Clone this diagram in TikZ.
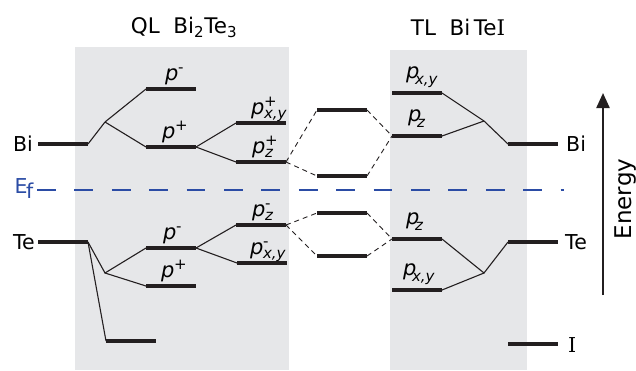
\documentclass[tikz,border=0pt]{standalone}
\usepackage{fontspec}
\setmainfont{DejaVu Sans}
\newfontfamily\serifI{DejaVu Serif}
\usetikzlibrary{arrows.meta}

\definecolor{panel}{RGB}{230,231,233}
\definecolor{levelc}{RGB}{35,31,32}
\definecolor{fermi}{RGB}{43,76,165}

% orbital label: p with stacked superscript / subscript
\newcommand\orb[2]{\textit{p}\kern-0.5pt\rlap{\raisebox{8pt}{\fontsize{15}{15}\selectfont #1}}\raisebox{-4pt}{\fontsize{15}{15}\selectfont\itshape #2}}
% orbital label with the subscript tucked under the p
\newcommand\orbt[1]{\textit{p}\kern-4.5pt\raisebox{-6pt}{\fontsize{15}{15}\selectfont\itshape #1}}

\begin{document}
\begin{tikzpicture}[x=1pt,y=-1pt,
  lvl/.style={draw=none,fill=levelc,minimum width=50pt,minimum height=4pt,inner sep=0pt,outer sep=0pt},
  link/.style={line width=1.1pt,levelc},
  mix/.style={line width=0.9pt,levelc,dash pattern=on 5pt off 4pt},
  txt/.style={inner sep=0pt,font=\fontsize{20.5}{20.5}\selectfont},
  olab/.style={inner sep=0pt,anchor=base west,font=\fontsize{21}{21}\selectfont}]
\useasboundingbox (0,0) rectangle (636,370);

% shaded panels
\fill[panel] (75,47) rectangle (289,370);
\fill[panel] (390,50) rectangle (527,370);

% titles
\node[txt,anchor=base,font=\fontsize{21.5}{21.5}\selectfont] (qlt) at (184,33) {QL\ \ Bi\textsubscript{2}Te\textsubscript{3}};
\node[txt,anchor=base,font=\fontsize{21.5}{21.5}\selectfont] (tlt) at (458,35) {TL\ \ Bi\,Te{\serifI I}};

% Fermi level
\coordinate (ef0) at (37,190);
\coordinate (ef1) at (564,190);
\draw[fermi,line width=2.8pt,dash pattern=on 18.7pt off 18.7pt] (ef0) -- (ef1);
\node[txt,text=fermi,anchor=base] (ef) at (24,193) {E\kern-1.5pt\raisebox{-5pt}{f}};

% levels: QL Bi2Te3
\node[lvl] (biL) at (63,144) {};
\node[lvl] (pm)  at (171,89) {};
\node[lvl] (pp)  at (171,147) {};
\node[lvl] (pxyp) at (261,123) {};
\node[lvl] (pzp) at (261,162) {};
\node[lvl] (teL) at (63,242) {};
\node[lvl] (pm2) at (171,248) {};
\node[lvl] (pp2) at (171,286) {};
\node[lvl] (low) at (131,341) {};
\node[lvl] (pzm) at (261,225) {};
\node[lvl] (pxym) at (262,263) {};

% levels: mixed states
\node[lvl] (m1) at (342,110) {};
\node[lvl] (m2) at (342,176) {};
\node[lvl] (m3) at (342,213) {};
\node[lvl] (m4) at (342,256) {};

% levels: TL BiTeI
\node[lvl] (tpxy)  at (417,93) {};
\node[lvl] (tpz)   at (417,136) {};
\node[lvl] (tpz2)  at (417,239) {};
\node[lvl] (tpxy2) at (417,290) {};
\node[lvl] (biR) at (533,144) {};
\node[lvl] (teR) at (533,242) {};
\node[lvl] (iR)  at (533,344) {};

% branch points
\coordinate (j1) at (105,122);
\coordinate (j2) at (105,273);
\coordinate (j3) at (484,121);
\coordinate (j4) at (484,273);

% splitting lines
\draw[link] (biL.east) -- (j1) -- (pm.west);
\draw[link] (j1) -- (pp.west);
\draw[link] (pp.east) -- (pxyp.west);
\draw[link] (pp.east) -- (pzp.west);
\draw[link] (teL.east) -- (j2) -- (pm2.west);
\draw[link] (j2) -- (pp2.west);
\draw[link] (teL.east) -- (low.west);
\draw[link] (pm2.east) -- (pzm.west);
\draw[link] (pm2.east) -- (pxym.west);
\draw[link] (tpxy.east) -- (j3) -- (biR.west);
\draw[link] (tpz.east) -- (j3);
\draw[link] (tpz2.east) -- (j4) -- (teR.west);
\draw[link] (tpxy2.east) -- (j4);

% hybridisation
\draw[mix] (pzp.east) -- (m1.west);
\draw[mix] (pzp.east) -- (m2.west);
\draw[mix] (m1.east) -- (tpz.west);
\draw[mix] (m2.east) -- (tpz.west);
\draw[mix] (pzm.east) -- (m3.west);
\draw[mix] (pzm.east) -- (m4.west);
\draw[mix] (m3.east) -- (tpz2.west);
\draw[mix] (m4.east) -- (tpz2.west);

% atom labels
\node[txt,anchor=east] (lbi) at (33,144) {Bi};
\node[txt,anchor=east] (lte) at (35,242) {Te};
\node[txt,anchor=west] (rbi) at (566,144) {Bi};
\node[txt,anchor=west] (rte) at (565,242) {Te};
\node[txt,anchor=west] (ri) at (568,345) {\serifI I};

% orbital labels
\node[olab] (lpm)   at (165,80)  {\orb{-}{}};
\node[olab] (lpp)   at (162,138) {\orb{+}{}};
\node[olab] (lpxyp) at (251,114) {\orb{+}{x,y}};
\node[olab] (lpzp)  at (252,153) {\orb{+}{z}};
\node[olab] (lpm2)  at (163,239) {\orb{-}{}};
\node[olab] (lpp2)  at (161,277) {\orb{+}{}};
\node[olab] (lpzm)  at (252,216) {\orb{-}{z}};
\node[olab] (lpxym) at (250,254) {\orb{-}{x,y}};
\node[olab] (ltpxy) at (406,78)  {\orbt{x,y}};
\node[olab] (ltpz)  at (408,121) {\orbt{z}};
\node[olab] (ltpz2) at (406,224) {\orbt{z}};
\node[olab] (ltpxy2) at (403,275) {\orbt{x,y}};

% energy axis
\coordinate (eb) at (603,295);
\coordinate (et) at (603,93);
\draw[levelc,line width=2.3pt,-{Triangle[width=13pt,length=15pt]}] (eb) -- (et);
\node[txt,rotate=90,font=\fontsize{23}{23}\selectfont] (en) at (625,199) {Energy};
\end{tikzpicture}
\end{document}
